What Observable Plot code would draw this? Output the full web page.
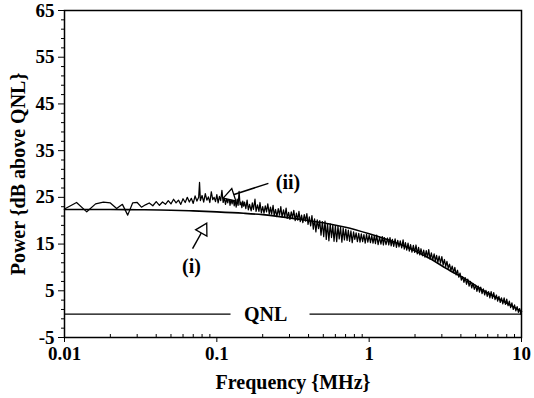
<!DOCTYPE html>
<html><head><meta charset="utf-8">
<script src="https://cdn.jsdelivr.net/npm/d3@7"></script>
<script src="https://cdn.jsdelivr.net/npm/@observablehq/plot@0.6"></script>
<style>html,body{margin:0;padding:0;background:#fff;}</style>
</head><body><div id="chart"></div>
<script>
// ---- axis ticks ----
const xMajorTicks = [0.01, 0.1, 1, 10];
const xMinorTicks = [0.02,0.03,0.04,0.05,0.06,0.07,0.08,0.09,0.2,0.3,0.4,0.5,0.6,0.7,0.8,0.9,2,3,4,5,6,7,8,9];
const yMajorTicks = [-5, 5, 15, 25, 35, 45, 55, 65];
const yMinorTicks = [-3,-1,1,3,7,9,11,13,17,19,21,23,27,29,31,33,37,39,41,43,47,49,51,53,57,59,61,63];

// ---- measured spectrum (ii) ----
const noisyFreq = [
  0.010,0.012,0.014,0.016,0.018,0.020,0.022,0.024,0.026,0.028,
  0.030,0.032,0.034,0.036,0.038,0.040,0.042,0.044,0.046,0.048,
  0.050,0.052,0.054,0.056,0.058,0.060,0.062,0.064,0.066,0.068,
  0.070,0.072,0.074,0.076,0.077,0.078,0.080,0.082,0.084,0.086,
  0.088,0.090,0.092,0.094,0.096,0.098,0.100,0.102,0.104,0.106,
  0.108,0.110,0.112,0.114,0.116,0.118,0.120,0.122,0.124,0.126,
  0.128,0.130,0.132,0.134,0.136,0.138,0.140,0.142,0.144,0.146,
  0.148,0.150,
  0.152,0.155,0.158,0.161,0.164,0.168,0.171,0.174,0.178,0.181,
  0.185,0.189,0.192,0.196,0.200,0.204,0.208,0.212,0.216,0.221,
  0.225,0.229,0.234,0.238,0.243,0.248,0.253,0.258,0.263,0.268,
  0.274,0.279,0.285,0.290,0.296,0.302,0.308,0.314,0.320,0.327,
  0.333,0.340,0.346,0.353,0.360,0.367,0.375,0.382,0.390,0.397,
  0.405,0.413,0.421,0.430,0.438,0.447,0.456,0.465,0.474,0.483,
  0.493,0.503,0.513,0.523,0.533,0.544,0.555,0.566,0.577,0.588,
  0.600,0.612,0.624,0.636,0.649,0.662,0.675,0.688,0.702,0.716,
  0.730,0.744,0.759,0.774,0.790,0.805,0.821,0.837,0.854,0.871,
  0.888,0.906,0.924,0.942,0.961,0.980,1.000,1.020,1.040,1.060,
  1.080,1.100,1.120,1.145,1.170,1.195,1.220,1.240,1.260,1.290,
  1.320,1.345,1.370,1.395,1.420,1.450,1.480,1.510,1.540,1.570,
  1.600,1.635,1.670,1.700,1.730,1.765,1.800,1.835,1.870,1.910,
  1.950,1.990,2.030,2.070,2.110,2.150,2.190,2.235,2.280,2.325,
  2.370,2.415,2.460,2.510,2.560,2.615,2.670,2.720,2.770,2.825,
  2.880,2.940,3.000,3.060,3.120,3.180,3.240,3.305,3.370,3.440,
  3.510,3.580,3.650,3.725,3.800,3.875,3.950,4.030,4.110,4.190,
  4.270,4.355,4.440,4.530,4.620,4.710,4.800,4.900,5.000,5.100,
  5.200,5.300,5.400,5.510,5.620,5.730,5.840,5.960,6.080,6.200,
  6.320,6.445,6.570,6.705,6.840,6.975,7.110,7.250,7.390,7.540,
  7.690,7.845,8.000,8.160,8.320,8.485,8.650,8.825,9.000,9.180,
  9.360,9.545,9.730,9.900,10.00
];
const noisyPower = [
  22.5,23.9,21.9,23.6,24.0,23.8,22.6,23.5,21.2,23.8,
  23.9,22.9,23.4,23.8,23.2,24.1,23.3,24.0,23.5,24.3,
  23.6,24.6,23.8,24.4,23.5,24.7,23.9,25.0,24.0,24.8,
  23.7,25.3,24.2,25.0,28.2,24.3,25.4,24.0,25.8,24.4,
  25.1,23.9,26.2,24.5,25.0,24.1,25.6,23.8,25.2,24.3,
  26.5,23.9,25.0,23.5,24.8,23.8,25.4,23.3,24.6,23.6,
  25.0,23.2,24.4,22.9,24.6,23.3,26.3,23.4,24.0,22.8,
  24.2,23.1,
  24.0,22.6,24.4,22.3,23.5,22.1,23.8,22.4,24.6,22.0,
  23.4,22.0,23.9,21.7,23.0,21.6,23.2,21.9,23.6,21.4,
  22.9,21.4,23.3,21.1,22.4,20.9,22.6,21.2,23.0,20.8,
  22.3,20.8,22.7,20.5,21.8,20.3,21.9,20.6,22.2,20.0,
  21.6,20.1,22.0,19.8,21.2,19.6,21.3,19.9,21.5,19.2,
  20.8,18.9,21.1,18.2,20.4,17.6,20.2,18.3,20.0,16.9,
  19.8,16.6,19.9,16.0,19.4,15.7,19.3,16.4,19.0,15.6,
  18.9,15.5,18.8,16.1,18.6,15.4,18.4,15.9,18.2,15.8,
  18.0,15.6,17.8,15.3,17.6,16.0,17.4,15.5,17.3,15.4,
  17.2,15.5,17.0,15.2,17.1,15.4,16.9,15.3,16.8,15.2,
  16.7,15.1,16.9,14.9,16.5,15.0,16.6,14.8,16.4,14.9,
  16.3,14.8,16.4,14.6,16.0,14.5,16.1,14.3,15.8,14.4,
  15.7,14.2,15.9,13.9,15.3,13.7,15.2,13.5,14.9,13.3,
  14.7,13.2,14.8,12.9,14.3,12.7,14.0,12.5,13.7,12.2,
  13.6,12.1,13.8,11.8,13.1,11.6,12.9,11.3,12.6,11.1,
  12.4,10.9,12.3,10.5,11.7,10.2,11.3,9.8,10.7,9.3,
  10.3,8.9,10.0,8.4,9.4,7.9,8.8,7.3,8.0,6.8,
  7.8,6.4,7.5,6.0,7.0,5.6,6.6,5.3,6.2,4.9,
  6.0,4.7,5.8,4.4,5.4,4.1,5.1,3.8,4.8,3.5,
  4.8,3.4,4.6,3.1,4.1,2.8,3.8,2.5,3.5,2.2,
  3.5,2.1,3.2,1.8,2.8,1.4,2.4,1.0,2.0,0.7,
  1.6,0.4,1.2,0.0,0.5
];

// ---- calculated spectrum (i) ----
const smoothFreq = [0.01,0.02,0.03,0.05,0.07,0.1,0.15,0.2,0.3,0.4,0.55,0.7,1.0,1.2,1.5,1.9,2.5,3.4,4.2,5.4,6.9,8.9,10];
const smoothPower = [22.4,22.4,22.35,22.25,22.1,21.9,21.6,21.3,20.6,20.0,19.3,18.6,17.2,16.4,15.3,13.9,11.9,9.3,7.7,5.4,3.5,1.5,0.6];

// ---- QNL reference line (0 dB) with a gap for its label ----
const qnlLevel = 0;
const qnlSegStart = [0.01, 0.406];
const qnlSegEnd = [0.123, 10];
const qnlLabel = "QNL";
const qnlLabelX = 0.209;

// ---- curve annotations ----
const annLabels = ["(i)", "(ii)"];
const annLabelX = [0.0682, 0.293];
const annLabelY = [10.2, 28.2];
const annTailX = [0.0693, 0.218];
const annTailY = [14.05, 28.0];
const annTipX = [0.0843, 0.114];
const annTipY = [19.0, 25.0];

const xTitle = "Frequency {MHz}";
const yTitle = "Power {dB above QNL}";

const noisy = noisyFreq.map((f, i) => ({f, p: noisyPower[i]}));
const smooth = smoothFreq.map((f, i) => ({f, p: smoothPower[i]}));
const qnlSegs = qnlSegStart.map((s, i) => ({x1: s, x2: qnlSegEnd[i]}));

const base = {
  width: 534, height: 398,
  marginLeft: 64, marginRight: 13, marginTop: 10, marginBottom: 61,
  x: {type: "log", domain: [0.01, 10], label: null},
  y: {domain: [-5, 65], label: null},
  style: {fontFamily: "'Liberation Serif', serif", fontWeight: "bold", fontSize: "19px", color: "#000", background: "#fff", overflow: "visible"}
};

// scales to place the arrow heads
const probe = Plot.plot({...base, marks: [Plot.frame()]});
const sx = probe.scale("x"), sy = probe.scale("y");
const heads = annLabels.map((_, i) => {
  const tx = sx.apply(annTailX[i]), ty = sy.apply(annTailY[i]);
  const px = sx.apply(annTipX[i]), py = sy.apply(annTipY[i]);
  const L = Math.hypot(px - tx, py - ty), ux = (px - tx) / L, uy = (py - ty) / L;
  const cx = px - ux * 5, cy = py - uy * 5;
  return {
    tailX: annTailX[i], tailY: annTailY[i],
    cx: sx.invert(cx), cy: sy.invert(cy),
    angle: Math.atan2(ux, -uy) * 180 / Math.PI
  };
});

const chart = Plot.plot({
  ...base,
  marks: [
    Plot.link(qnlSegs, {x1: "x1", x2: "x2", y1: qnlLevel, y2: qnlLevel, stroke: "#000", strokeWidth: 1.3}),
    Plot.text([qnlLabel], {x: qnlLabelX, y: qnlLevel, fontSize: 20, fontWeight: "bold", fill: "#000"}),
    Plot.line(smooth, {x: "f", y: "p", curve: "monotone-x", stroke: "#000", strokeWidth: 1.6}),
    Plot.line(noisy, {x: "f", y: "p", stroke: "#000", strokeWidth: 1.25}),
    Plot.link(heads, {x1: "tailX", y1: "tailY", x2: "cx", y2: "cy", stroke: "#000", strokeWidth: 1.5}),
    Plot.dot(heads, {x: "cx", y: "cy", symbol: "triangle", rotate: "angle", r: 4.8, fill: "#fff", stroke: "#000", strokeWidth: 1.3}),
    Plot.text(annLabels, {x: (d, i) => annLabelX[i], y: (d, i) => annLabelY[i], text: d => d, fontSize: 20, fontWeight: "bold", fill: "#000"}),
    Plot.frame({stroke: "#000", strokeWidth: 1.5}),
    Plot.axisY({ticks: yMajorTicks, tickSize: 6, tickPadding: 4, tickFormat: d => String(d), fontSize: 19, label: null}),
    Plot.axisY({ticks: yMinorTicks, tickSize: 3, tickFormat: () => "", label: null}),
    Plot.axisX({ticks: xMajorTicks, tickSize: 5, tickPadding: 4, tickFormat: d => String(d), fontSize: 19, label: null}),
    Plot.axisX({ticks: xMinorTicks, tickSize: 3, dy: -3, tickFormat: () => "", label: null}),
    Plot.text([xTitle], {frameAnchor: "bottom", lineAnchor: "middle", textAnchor: "middle", dy: 45, fontSize: 20, fontWeight: "bold", fill: "#000"}),
    Plot.text([yTitle], {frameAnchor: "left", textAnchor: "middle", lineAnchor: "middle", rotate: -90, dx: -46, fontSize: 20, fontWeight: "bold", fill: "#000"})
  ]
});
document.getElementById("chart").appendChild(chart);
</script>
</body></html>
